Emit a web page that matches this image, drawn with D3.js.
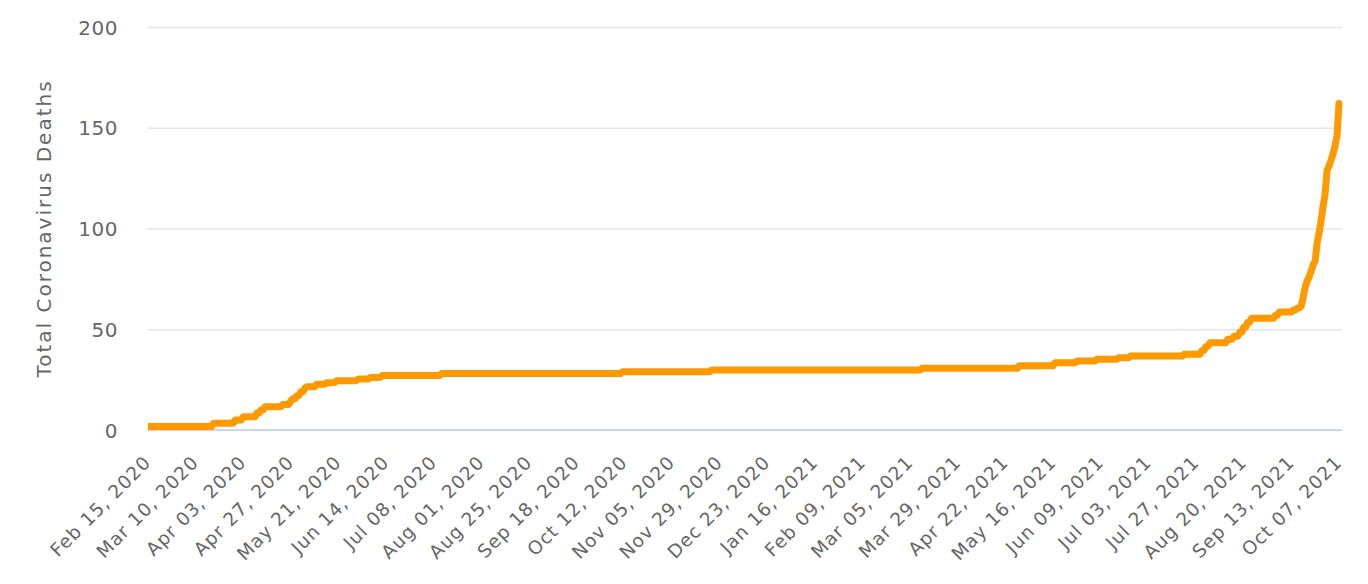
<!DOCTYPE html>
<html>
<head>
<meta charset="utf-8">
<script src="https://cdn.jsdelivr.net/npm/d3@7"></script>
<style>
  html, body { margin: 0; padding: 0; background: #ffffff; }
  svg { display: block; }
</style>
</head>
<body>
<div id="chart"></div>
<script>
// ---------------- DATA ----------------
const startDate = "2020-02-15";
const endDate = "2021-10-07";

// Dates on which the cumulative total changes (value holds until the next date)
const changeDates = [
  "2020-02-15","2020-03-19","2020-03-30","2020-04-03","2020-04-10","2020-04-12",
  "2020-04-14","2020-04-23","2020-04-27","2020-04-28","2020-04-30","2020-05-02",
  "2020-05-04","2020-05-05","2020-05-10","2020-05-15","2020-05-20","2020-05-31",
  "2020-06-06","2020-06-12","2020-07-12","2020-10-11","2020-11-25","2021-03-11",
  "2021-04-29","2021-05-17","2021-05-28","2021-06-07","2021-06-18","2021-06-24",
  "2021-07-21","2021-07-30","2021-08-01","2021-08-03","2021-08-12","2021-08-15",
  "2021-08-18","2021-08-20","2021-08-22","2021-08-24","2021-09-05","2021-09-07",
  "2021-09-14","2021-09-16","2021-09-18","2021-09-19","2021-09-20","2021-09-21",
  "2021-09-22","2021-09-23","2021-09-24","2021-09-25","2021-09-26","2021-09-27",
  "2021-09-28","2021-09-29","2021-09-30","2021-10-01","2021-10-02","2021-10-03",
  "2021-10-04","2021-10-05","2021-10-06","2021-10-07"
];
const changeValues = [
  1.7, 3.3, 5.0, 6.6, 8.5, 10.0,
  11.6, 12.7, 14.5, 15.5, 17.0, 19.0,
  20.7, 21.5, 22.7, 23.5, 24.5, 25.3,
  26.1, 27.1, 28.0, 28.9, 29.8, 30.6,
  31.9, 33.4, 34.2, 35.1, 35.9, 36.7,
  37.6, 39.5, 41.5, 43.3, 45.0, 46.5,
  48.5, 51.0, 53.5, 55.4, 57.0, 58.5,
  59.5, 60.5, 61.5, 66, 71, 74,
  76, 79, 82, 84, 93, 98,
  104, 111, 117, 129, 131, 134,
  137, 141, 146, 162
];

const xTickLabels = [
  "Feb 15, 2020","Mar 10, 2020","Apr 03, 2020","Apr 27, 2020","May 21, 2020",
  "Jun 14, 2020","Jul 08, 2020","Aug 01, 2020","Aug 25, 2020","Sep 18, 2020",
  "Oct 12, 2020","Nov 05, 2020","Nov 29, 2020","Dec 23, 2020","Jan 16, 2021",
  "Feb 09, 2021","Mar 05, 2021","Mar 29, 2021","Apr 22, 2021","May 16, 2021",
  "Jun 09, 2021","Jul 03, 2021","Jul 27, 2021","Aug 20, 2021","Sep 13, 2021",
  "Oct 07, 2021"
];
const yTickValues = [0, 50, 100, 150, 200];
const yTitle = "Total Coronavirus Deaths";

// ---------------- LAYOUT ----------------
const W = 1368, H = 584;
const plot = { left: 148, right: 1342, top: 27, bottom: 430, lastX: 1339 };
const FONT = "'DejaVu Sans', Verdana, sans-serif";

const parseISO = d3.utcParse("%Y-%m-%d");
const parseLbl = d3.utcParse("%b %d, %Y");

const changes = changeDates.map((d, i) => ({ date: parseISO(d), value: changeValues[i] }));
const days = d3.utcDay.range(parseISO(startDate), d3.utcDay.offset(parseISO(endDate), 1));
let ci = 0;
const daily = days.map(d => {
  while (ci + 1 < changes.length && changes[ci + 1].date <= d) ci++;
  return { date: d, value: changes[ci].value };
});

const x = d3.scaleUtc().domain([parseISO(startDate), parseISO(endDate)]).range([plot.left, plot.lastX]);
const y = d3.scaleLinear().domain([0, 200]).range([plot.bottom, plot.top]);

const svg = d3.select("#chart").append("svg").attr("width", W).attr("height", H);

// grid + y labels
const yAxis = d3.axisLeft(y).tickValues(yTickValues)
  .tickSize(-(plot.right - plot.left)).tickPadding(30);
const gy = svg.append("g").attr("transform", `translate(${plot.left},0)`).call(yAxis);
gy.select(".domain").remove();
gy.selectAll(".tick line").attr("stroke", "#e6e6e6").attr("stroke-width", 1.5);
gy.selectAll(".tick text").attr("fill", "#666666").attr("font-family", FONT)
  .attr("font-size", 20).attr("letter-spacing", "0.5px").attr("dy", "0.35em");

// y title
svg.append("text")
  .attr("transform", `translate(51,${(plot.top + plot.bottom) / 2}) rotate(-90)`)
  .attr("text-anchor", "middle")
  .attr("font-family", FONT).attr("font-size", 20).attr("letter-spacing", "2px")
  .attr("fill", "#666666")
  .text(yTitle);

// x axis
const tickDates = xTickLabels.map(s => parseLbl(s));
const xAxis = d3.axisBottom(x).tickValues(tickDates).tickSize(0)
  .tickFormat(d3.utcFormat("%b %d, %Y"));
const gx = svg.append("g").attr("transform", `translate(0,${plot.bottom})`).call(xAxis);
gx.select(".domain").remove();
gx.selectAll(".tick text")
  .attr("fill", "#666666").attr("font-family", FONT).attr("font-size", 18.5)
  .attr("letter-spacing", "1px")
  .attr("text-anchor", "end")
  .attr("x", 0).attr("y", 0).attr("dy", "0.35em")
  .attr("transform", "translate(-1,29) rotate(-45)");

// axis line
svg.append("line")
  .attr("x1", plot.left).attr("x2", plot.right)
  .attr("y1", y(0)).attr("y2", y(0))
  .attr("stroke", "#ccd6eb").attr("stroke-width", 2);

// clip
svg.append("clipPath").attr("id", "clip").append("rect")
  .attr("x", plot.left).attr("y", 0).attr("width", W - plot.left).attr("height", plot.bottom + 10);

// series line
const line = d3.line().x(d => x(d.date)).y(d => y(d.value));
svg.append("path")
  .datum(daily)
  .attr("clip-path", "url(#clip)")
  .attr("fill", "none")
  .attr("stroke", "#ff9900")
  .attr("stroke-width", 7)
  .attr("stroke-linejoin", "round")
  .attr("stroke-linecap", "round")
  .attr("d", line);
</script>
</body>
</html>
